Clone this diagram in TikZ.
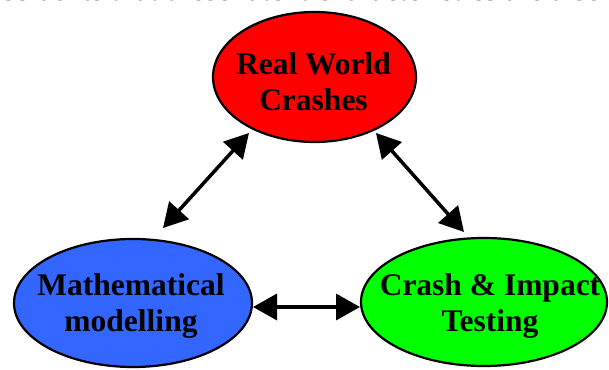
\documentclass[tikz,border=0pt]{standalone}
\usepackage{fontspec}
\setmainfont{Liberation Serif}
\usetikzlibrary{arrows.meta,shapes.geometric,calc}
\definecolor{cred}{HTML}{FF0000}
\definecolor{cblue}{HTML}{3366FF}
\definecolor{cgreen}{HTML}{00FF00}
\tikzset{
  blob/.style={ellipse,draw=black,line width=2.2pt,inner sep=0pt,outer sep=0pt},
  lbl/.style={align=center,anchor=north,inner sep=0pt,font=\fontsize{31.5}{36}\selectfont\bfseries},
  dbl/.style={line width=3.5pt,{Triangle[length=24pt,width=26pt]}-{Triangle[length=24pt,width=26pt]}},
  bodytext/.style={inner sep=0pt,anchor=base east,font=\fontsize{31.5}{36}\selectfont}
}
\begin{document}
\begin{tikzpicture}[x=1pt,y=1pt]
\useasboundingbox (0,0) rectangle (609,369);
\node[bodytext] (top) at (602,368.2) {ccidents that these latent characteristics are also};
\node[blob,fill=cred,minimum width=203pt,minimum height=130pt] (red) at (314.5,292) {};
\node[blob,fill=cblue,minimum width=238pt,minimum height=128pt] (blue) at (133,66) {};
\node[blob,fill=cgreen,minimum width=246pt,minimum height=128pt] (green) at (484,67) {};
\node[lbl] (redtxt) at (313.5,316.3) {Real World\\Crashes};
\node[lbl] (bluetxt) at (131,95.3) {Mathematical\\modelling};
\node[lbl] (greentxt) at (490,95.3) {Crash \& Impact\\Testing};
\draw[dbl] ($(blue.center)+(30,75)$) -- ($(red.center)+(-65.5,-56)$);
\draw[dbl] ($(red.center)+(61.5,-56)$) -- ($(green.center)+(-20,70)$);
\draw[dbl] ($(blue.center)+(120,-4)$) -- ($(green.center)+(-124,-5)$);
\end{tikzpicture}
\end{document}
